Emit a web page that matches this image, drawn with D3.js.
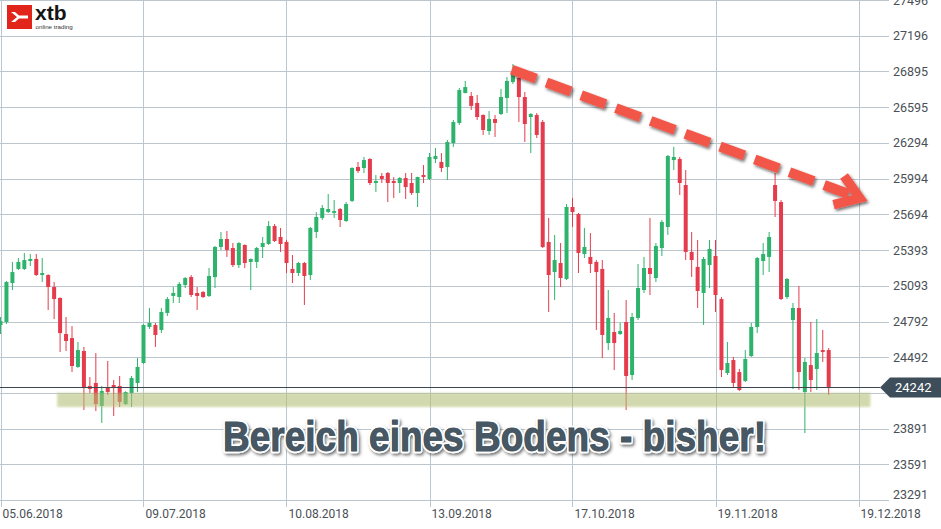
<!DOCTYPE html>
<html><head><meta charset="utf-8">
<script src="https://cdn.jsdelivr.net/npm/d3@7"></script>
<style>body{margin:0;background:#fff;overflow:hidden}svg{display:block}</style>
</head><body>
<script>
// ---- data ----
const openV  = [24763,24788,25116,25234,25234,25301,25318,25183,25183,25082,24990,24687,24653,24410,24544,24250,24275,24082,24233,24258,24250,24098,24191,24275,24443,24746,24763,24721,24864,25007,24998,25099,25166,25032,25040,25007,25166,25419,25486,25410,25267,25436,25293,25293,25419,25444,25595,25503,25461,25234,25200,25284,25183,25545,25663,25713,25705,25738,25637,25806,26092,26083,26159,25957,26016,26041,25974,25957,25999,25957,25873,26024,25991,26159,26134,26092,26293,26462,26714,26689,26630,26529,26394,26495,26537,26672,26806,26840,26680,26512,26529,26470,25461,25208,25284,25150,25755,25696,25360,25335,25293,25234,24611,24704,24687,24788,24342,24822,25057,25242,25158,25410,25587,26150,26159,25940,25377,25251,25032,25267,25343,24981,24359,24468,24367,24292,24502,24746,25301,25335,25940,25797,24998,24805,24906,24199,24426,24393,24552,24552];
const highV  = [24830,25133,25293,25326,25368,25360,25360,25326,25190,25124,24995,24830,24754,24620,24578,24325,24527,24250,24460,24300,24334,24205,24334,24485,24770,24906,24780,24906,24998,25082,25124,25166,25183,25082,25049,25242,25427,25545,25553,25452,25460,25440,25322,25419,25503,25637,25612,25579,25478,25351,25293,25293,25587,25713,25772,25864,25814,25747,25797,26090,26134,26176,26165,26024,26041,26049,26007,26007,26041,26041,26010,26108,26209,26251,26209,26319,26487,26756,26815,26722,26697,26535,26562,26529,26748,26848,26958,26857,26722,26545,26545,26487,25663,25520,25452,25780,25831,25705,25579,25536,25309,25309,25057,24864,24780,24973,24864,25276,25335,25663,25452,25646,26192,26260,26176,26066,25545,25478,25335,25478,25478,24998,24620,24494,24393,24552,24780,25335,25452,25545,26041,25814,25158,24948,25091,24485,24788,24813,24721,24569];
const lowV   = [24687,24771,25057,25225,25225,25259,25175,25124,24889,24813,24536,24544,24367,24402,24048,24191,24039,23939,24174,23997,24073,24090,24073,24199,24435,24729,24578,24695,24838,24948,24948,25074,24998,24889,24990,24998,25074,25394,25335,25251,25242,25242,25057,25242,25326,25436,25461,25377,25200,25116,25175,24931,25141,25494,25646,25705,25663,25587,25630,25797,26041,26041,25940,25881,25957,25797,25831,25873,25822,25856,25755,25957,25982,26125,26049,25982,26260,26445,26710,26571,26487,26361,26361,26344,26529,26546,26790,26470,26302,26209,26335,25410,24872,24973,25082,25141,25587,25200,25326,25200,24721,24485,24552,24384,24679,24048,24300,24805,25032,25015,25124,25343,25520,26066,25856,25309,25167,24906,24763,25074,24872,24325,24342,24241,24208,24283,24494,24695,25183,25208,25671,24973,24981,24224,24216,23854,24199,24216,24452,24174];
const closeV = [24796,25124,25208,25293,25309,25318,25183,25200,25082,24981,24695,24628,24418,24552,24241,24225,24098,24208,24199,24241,24115,24199,24317,24410,24763,24780,24679,24872,24981,25032,25108,25158,25015,25007,24998,25175,25419,25486,25394,25267,25452,25284,25318,25410,25452,25595,25469,25444,25284,25200,25284,25175,25579,25671,25747,25738,25721,25646,25780,26083,26058,26150,25957,25974,25991,25957,25957,25999,25923,25873,26007,26007,26176,26184,26083,26302,26470,26739,26764,26605,26512,26403,26495,26462,26680,26815,26890,26680,26453,26537,26361,25419,25183,25309,25158,25755,25713,25368,25419,25276,25208,24679,24822,24611,24712,24334,24830,25074,25242,25192,25427,25629,26184,26176,25957,25377,25309,25049,25318,25402,25015,24384,24443,24275,24216,24477,24746,25326,25360,25503,25806,24981,25150,24906,24367,24452,24300,24527,24536,24242];
const dateLabels = ["05.06.2018","09.07.2018","10.08.2018","13.09.2018","17.10.2018","19.11.2018","19.12.2018"];
const dateLabelIndex = [0,24,48,72,96,120,144];
const priceTicks = [23291,23591,23891,24192,24492,24792,25093,25393,25694,25994,26294,26595,26895,27196,27496];
const currentPrice = 24242;
const supportZone = {fromIdx: 9.5, toIdx: 146, lowP: 24073, highP: 24191};
const trendStart = {idx: 85.8, p: 26910};
const trendEnd   = {idx: 144.2, p: 25830};
const annotation = "Bereich eines Bodens - bisher!";

// ---- drawing ----
const W = 941, H = 529;
const svg = d3.select("body").append("svg").attr("width", W).attr("height", H);
const defs = svg.append("defs");
const sh = defs.append("filter").attr("id","shadow").attr("x","-10%").attr("y","-30%").attr("width","130%").attr("height","180%");
sh.append("feDropShadow").attr("dx",1.5).attr("dy",2).attr("stdDeviation",1.4).attr("flood-color","#000").attr("flood-opacity",0.55);
const bl = defs.append("filter").attr("id","blur").attr("x","-5%").attr("y","-50%").attr("width","110%").attr("height","200%");
bl.append("feGaussianBlur").attr("stdDeviation",1.2);

const x = d3.scaleLinear().domain([0,144]).range([0.5,858.5]);
const y = d3.scaleLinear().domain([23291,27496]).range([500,0]);

const grid = "#bcc6cf";
// horizontal grid
svg.append("g").selectAll("line").data(priceTicks).join("line")
  .attr("x1",0).attr("x2",889)
  .attr("y1",d=>Math.round(y(d))+0.5).attr("y2",d=>Math.round(y(d))+0.5)
  .attr("stroke",grid).attr("stroke-width",1);
// vertical grid
svg.append("g").selectAll("line").data(dateLabelIndex).join("line")
  .attr("x1",d=>Math.round(x(d))+0.5).attr("x2",d=>Math.round(x(d))+0.5)
  .attr("y1",0).attr("y2",507)
  .attr("stroke",grid).attr("stroke-width",1);

// y labels
svg.append("g").selectAll("text").data(priceTicks).join("text")
  .attr("x",893).attr("y",d=>Math.min(y(d),494)).attr("dy","0.36em")
  .attr("font-family","Roboto, 'Noto Sans', sans-serif").attr("font-size",12.5)
  .attr("fill","#4a4f55").text(d=>d);
// x labels
svg.append("g").selectAll("text").data(dateLabelIndex).join("text")
  .attr("x",(d,i)=>x(d)+2).attr("y",518)
  .attr("font-family","Roboto, 'Noto Sans', sans-serif").attr("font-size",12)
  .attr("fill","#4a4f55").text((d,i)=>dateLabels[i]);

// candles
const idx = d3.range(openV.length);
const green = "#2eb36c", red = "#e43c4c";
const cg = svg.append("g");
cg.selectAll("line").data(idx).join("line")
  .attr("x1",i=>x(i)).attr("x2",i=>x(i))
  .attr("y1",i=>y(highV[i])).attr("y2",i=>y(lowV[i]))
  .attr("stroke",i=>closeV[i]>=openV[i]?green:red).attr("stroke-width",1);
cg.selectAll("rect").data(idx).join("rect")
  .attr("x",i=>x(i)-2).attr("width",4)
  .attr("y",i=>y(Math.max(openV[i],closeV[i])))
  .attr("height",i=>Math.max(1.5,Math.abs(y(openV[i])-y(closeV[i]))))
  .attr("fill",i=>closeV[i]>=openV[i]?green:red);

// support zone
svg.append("rect")
  .attr("x",x(supportZone.fromIdx)).attr("width",x(supportZone.toIdx)-x(supportZone.fromIdx))
  .attr("y",y(supportZone.highP)).attr("height",y(supportZone.lowP)-y(supportZone.highP))
  .attr("fill","#b3bf74").attr("opacity",0.58).attr("filter","url(#blur)");

// current price line + label
const cy = Math.round(y(currentPrice))+0.5;
svg.append("line").attr("x1",0).attr("x2",880).attr("y1",cy).attr("y2",cy)
  .attr("stroke","#3b464f").attr("stroke-width",1.2);
svg.append("path")
  .attr("d",`M880,${cy} L890,${cy-10} L941,${cy-10} L941,${cy+10} L890,${cy+10} Z`)
  .attr("fill","#3d4d59");
svg.append("text").attr("x",895).attr("y",cy).attr("dy","0.36em")
  .attr("font-family","Roboto, 'Noto Sans', sans-serif").attr("font-size",13)
  .attr("fill","#fff").text(currentPrice);

// trend arrow
const tg = svg.append("g").attr("filter","url(#shadow)");
const x0 = x(trendStart.idx), y0 = y(trendStart.p), x1 = x(trendEnd.idx), y1 = y(trendEnd.p);
const ang = Math.atan2(y1-y0, x1-x0);
const ex = x1 - 6*Math.cos(ang), ey = y1 - 6*Math.sin(ang);
tg.append("line").attr("x1",x0).attr("y1",y0).attr("x2",ex).attr("y2",ey)
  .attr("stroke","#f2574a").attr("stroke-width",10).attr("stroke-dasharray","26,11");
const L = 27, a1 = ang + Math.PI - 0.6, a2 = ang + Math.PI + 0.6;
tg.append("path")
  .attr("d",`M${x1+L*Math.cos(a2)},${y1+L*Math.sin(a2)} L${x1},${y1} L${x1+L*Math.cos(a1)},${y1+L*Math.sin(a1)}`)
  .attr("fill","none").attr("stroke","#f2574a").attr("stroke-width",9.5).attr("stroke-linejoin","miter");

// annotation text: white outline + shadow underneath, heavier fill on top
const tAttrs = s => s.attr("x",223).attr("y",451)
  .attr("font-family","'Liberation Sans', Arial, sans-serif").attr("font-weight","bold").attr("font-size",42)
  .attr("textLength",543).attr("lengthAdjust","spacingAndGlyphs").text(annotation);
svg.append("text").call(tAttrs)
  .attr("fill","#475764").attr("stroke","#fff").attr("stroke-width",4.5).attr("stroke-linejoin","round")
  .attr("paint-order","stroke").attr("filter","url(#shadow)");
svg.append("text").call(tAttrs)
  .attr("fill","#475764").attr("stroke","#475764").attr("stroke-width",0.9);

// logo
const lg = svg.append("g");
lg.append("rect").attr("x",7).attr("y",5).attr("width",25).attr("height",24).attr("fill","#e1251b");
lg.append("path").attr("d","M11,12 L17,17 L11,22 L15,22 L19,18.5 L28,18.5 L28,15.5 L19,15.5 L15,12 Z").attr("fill","#fff");
lg.append("text").attr("x",35).attr("y",20).attr("font-family","'Liberation Sans', Arial, sans-serif")
  .attr("font-weight","bold").attr("font-size",21).attr("fill","#151515").text("xtb");
lg.append("text").attr("x",35.5).attr("y",28.5).attr("font-family","'Liberation Sans', Arial, sans-serif")
  .attr("font-size",6.2).attr("fill","#333").text("online trading");
</script>
</body></html>
